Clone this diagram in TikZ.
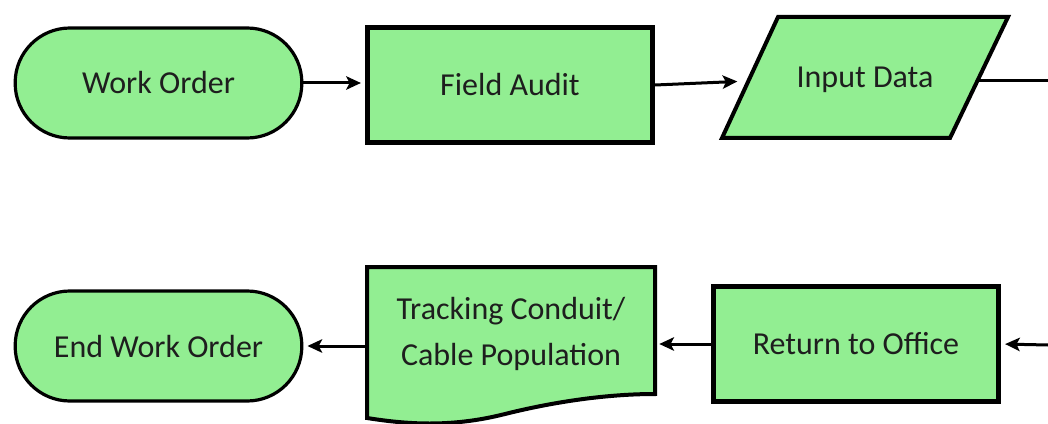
\documentclass[tikz,border=0pt]{standalone}
\usepackage{fontspec}
\setmainfont{Carlito}
\usetikzlibrary{arrows.meta}
\definecolor{boxfill}{HTML}{92EE92}
\definecolor{textdark}{HTML}{1E1E1E}
\begin{document}
\begin{tikzpicture}[x=0.75pt,y=-0.75pt,
  label/.style={text=textdark,font=\fontsize{24}{35}\selectfont,align=center,inner sep=0pt},
  box/.style={label,draw=black,fill=boxfill},
  term/.style={box,line width=2.4pt,rounded corners=41pt,minimum width=215pt,minimum height=82.5pt},
  procbox/.style={box,line width=3.6pt,minimum width=214pt,minimum height=86pt},
  shapeline/.style={draw=black,fill=boxfill,line width=3pt,line join=miter},
  flow/.style={draw=black,line width=2.25pt,-{Stealth[length=11pt,width=10pt,inset=2.5pt]},shorten >=3pt}
]
\useasboundingbox (0,0) rectangle (1048,424);

% top row
\node[term]    (wo) at (158.5,83) {Work Order};
\node[procbox] (fa) at (510,85)   {Field Audit};

% input/output parallelogram
\coordinate (idTL) at (778,17);
\coordinate (idTR) at (1008,17);
\coordinate (idBR) at (950,138);
\coordinate (idBL) at (722,138);
\path[shapeline] (idTL) -- (idTR) -- (idBR) -- (idBL) -- cycle;
\node[label] (id) at (865,80) {Input Data};
\coordinate (idW) at (748,81);
\coordinate (idE) at (978,81);
\coordinate (outR) at (1048,81);

% bottom row
\node[term]    (ewo) at (158.5,346) {End Work Order};
\node[procbox] (ro)  at (856,344)   {Return to Office};

% document shape
\path[shapeline] (367,267) -- (655,267) -- (655,394)
  .. controls (600,394) and (545,404) .. (505,414)
  .. controls (450,428) and (405,424) .. (367,418) -- cycle;
\node[label,minimum width=216pt,minimum height=96pt] (tr) at (511,334)
  {Tracking Conduit/\\Cable Population};
\coordinate (inR) at (1048,345);

% connectors
\draw[flow] (wo.east) -- (wo.east -| fa.west);
\draw[flow,shorten >=8pt] (fa.east) -- (idW);
\draw[line width=2.25pt] (idE) -- (outR);
\draw[flow] (inR) -- (ro.east);
\draw[flow] (ro.west) -- (ro.west -| tr.east);
\draw[flow] (ewo.east -| tr.west) -- (ewo.east);
\end{tikzpicture}
\end{document}
